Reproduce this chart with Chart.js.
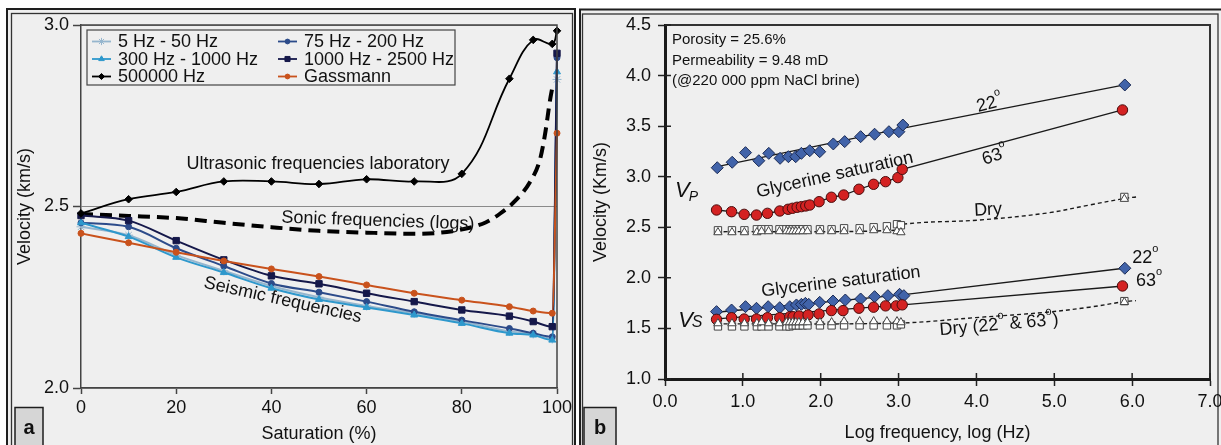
<!DOCTYPE html>
<html>
<head>
<meta charset="utf-8">
<script src="https://cdn.jsdelivr.net/npm/chart.js@4.4.1/dist/chart.umd.min.js"></script>
<style>
  html, body { margin: 0; padding: 0; background: #fff; }
  #wrap { position: relative; width: 1221px; height: 445px; overflow: hidden; }
  #satBox { position: absolute; left: 0; top: 0; width: 577px; height: 445px; }
  #freqBox { position: absolute; left: 577px; top: 0; width: 660px; height: 445px; }
</style>
</head>
<body>
<div id="wrap">
  <div id="satBox"><canvas id="satChart" width="577" height="445"></canvas></div>
  <div id="freqBox"><canvas id="freqChart" width="660" height="445"></canvas></div>
</div>
<script>
// ---- panel a : velocity vs saturation ----
const saturation = [0, 10, 20, 30, 40, 50, 60, 70, 80, 90, 95, 99, 100];
const vel5to50 = [2.444, 2.421, 2.366, 2.323, 2.281, 2.250, 2.226, 2.206, 2.183, 2.156, 2.149, 2.135, 2.850];
const vel75to200 = [2.455, 2.444, 2.385, 2.336, 2.288, 2.264, 2.238, 2.210, 2.187, 2.164, 2.151, 2.141, 2.910];
const vel300to1000 = [2.455, 2.417, 2.360, 2.318, 2.275, 2.244, 2.222, 2.201, 2.178, 2.151, 2.146, 2.132, 2.871];
const vel1000to2500 = [2.475, 2.461, 2.406, 2.353, 2.309, 2.287, 2.261, 2.238, 2.215, 2.198, 2.183, 2.169, 2.922];
const vel500000 = [2.481, 2.520, 2.540, 2.569, 2.569, 2.562, 2.575, 2.569, 2.590, 2.852, 2.959, 2.948, 2.984];
const velGassmann = [2.426, 2.400, 2.374, 2.350, 2.328, 2.307, 2.284, 2.261, 2.242, 2.224, 2.212, 2.206, 2.702];
const seriesNames = ['5 Hz - 50 Hz', '75 Hz - 200 Hz', '300 Hz - 1000 Hz', '1000 Hz - 2500 Hz', '500000 Hz', 'Gassmann'];

// sonic log trend (dashed, no markers)
const sonicSat = [0, 10, 20, 30, 40, 50, 60, 70, 78, 85, 88, 91.4, 94.3, 96.4, 97.5, 98.5, 99.2];
const sonicVel = [2.479, 2.474, 2.468, 2.455, 2.443, 2.433, 2.428, 2.425, 2.432, 2.456, 2.48, 2.518, 2.567, 2.628, 2.70, 2.79, 2.84];

// ---- panel b : velocity vs log frequency ----
const vp22Log = [0.671, 0.863, 1.034, 1.205, 1.333, 1.478, 1.585, 1.679, 1.752, 1.859, 1.987, 2.162, 2.308, 2.513, 2.692, 2.876, 3.004, 3.055, 5.906];
const vp22Vel = [3.089, 3.143, 3.238, 3.158, 3.231, 3.182, 3.198, 3.198, 3.231, 3.257, 3.247, 3.324, 3.347, 3.396, 3.420, 3.445, 3.445, 3.511, 3.907];
const vp63Log = [0.662, 0.855, 1.017, 1.175, 1.316, 1.474, 1.581, 1.637, 1.697, 1.752, 1.808, 1.859, 1.979, 2.137, 2.295, 2.491, 2.679, 2.833, 2.991, 3.047, 5.876];
const vp63Vel = [2.671, 2.654, 2.628, 2.621, 2.638, 2.661, 2.678, 2.688, 2.698, 2.704, 2.711, 2.720, 2.753, 2.797, 2.819, 2.876, 2.925, 2.951, 2.991, 3.073, 3.660];
const vs22Log = [0.662, 0.855, 1.034, 1.175, 1.325, 1.474, 1.603, 1.688, 1.752, 1.803, 1.846, 1.987, 2.158, 2.316, 2.513, 2.692, 2.863, 3.013, 3.068, 5.906];
const vs22Vel = [1.666, 1.682, 1.715, 1.699, 1.715, 1.705, 1.715, 1.732, 1.738, 1.748, 1.738, 1.758, 1.771, 1.781, 1.791, 1.814, 1.824, 1.837, 1.824, 2.095];
const vs63Log = [0.662, 0.855, 1.017, 1.175, 1.316, 1.474, 1.603, 1.645, 1.722, 1.838, 1.979, 2.137, 2.286, 2.491, 2.679, 2.833, 2.970, 3.047, 5.876];
const vs63Vel = [1.590, 1.606, 1.593, 1.593, 1.606, 1.606, 1.616, 1.616, 1.623, 1.633, 1.643, 1.676, 1.676, 1.700, 1.710, 1.723, 1.723, 1.733, 1.920];

const dryLog = [0.68, 0.86, 1.02, 1.18, 1.24, 1.33, 1.47, 1.56, 1.60, 1.64, 1.68, 1.72, 1.77, 1.83, 1.99, 2.14, 2.30, 2.50, 2.68, 2.85, 2.98, 3.03, 5.90];
const vpDrySquare = [2.47, 2.47, 2.47, 2.48, 2.48, 2.48, 2.48, 2.48, 2.48, 2.48, 2.48, 2.48, 2.48, 2.48, 2.48, 2.48, 2.49, 2.49, 2.50, 2.51, 2.53, 2.52, 2.80];
const vpDryTriangle = [2.45, 2.45, 2.45, 2.45, 2.46, 2.46, 2.46, 2.46, 2.46, 2.46, 2.46, 2.46, 2.46, 2.46, 2.46, 2.46, 2.46, 2.46, 2.47, 2.47, 2.46, 2.45, 2.78];
const vsDrySquare = [1.52, 1.52, 1.52, 1.52, 1.52, 1.52, 1.52, 1.52, 1.52, 1.53, 1.53, 1.53, 1.53, 1.53, 1.53, 1.53, 1.53, 1.53, 1.53, 1.53, 1.53, 1.54, 1.77];
const vsDryTriangle = [1.55, 1.55, 1.55, 1.55, 1.56, 1.55, 1.55, 1.56, 1.56, 1.56, 1.56, 1.56, 1.56, 1.56, 1.56, 1.56, 1.57, 1.57, 1.57, 1.57, 1.57, 1.56, 1.76];

// trend lines through the clusters
const vp22FitLog = [0.67, 3.06, 5.95];
const vp22FitVel = [3.10, 3.48, 3.915];
const vs22FitLog = [0.66, 3.07, 5.95];
const vs22FitVel = [1.66, 1.835, 2.10];
const vs63FitLog = [0.66, 3.05, 5.93];
const vs63FitVel = [1.595, 1.733, 1.922];
const vpDryFitLog = [0.66, 2.95, 3.05, 4.04, 4.9, 5.45, 5.9, 6.05];
const vpDryFitVel = [2.456, 2.47, 2.53, 2.572, 2.64, 2.72, 2.785, 2.80];
const vsDryFitLog = [0.66, 3.0, 4.04, 4.9, 5.45, 5.9, 6.05];
const vsDryFitVel = [1.545, 1.553, 1.61, 1.66, 1.71, 1.765, 1.775];

const FONT = '"Liberation Sans", Arial, Helvetica, sans-serif';
Chart.defaults.font.family = FONT;
Chart.defaults.color = '#111';
Chart.defaults.animation = false;

function pts(xs, ys) { return xs.map((x, i) => ({ x: x, y: ys[i] })); }

// text with ° drawn as a small raised "o"
function richText(ctx, text, x, y, o) {
  o = o || {};
  const size = o.size || 18, rot = o.rot || 0, style = o.style || '';
  const main = style + ' ' + size + 'px ' + FONT;
  const small = style + ' ' + Math.round(size * 0.6) + 'px ' + FONT;
  const parts = [];
  text.split('°').forEach((seg, i, arr) => {
    if (seg) parts.push({ t: seg, f: main, dy: 0 });
    if (i < arr.length - 1) parts.push({ t: 'o', f: small, dy: -size * 0.5 });
  });
  ctx.save();
  ctx.translate(x, y);
  ctx.rotate(rot * Math.PI / 180);
  let w = 0;
  parts.forEach(p => { ctx.font = p.f; p.w = ctx.measureText(p.t).width; w += p.w; });
  let cx = o.align === 'left' ? 0 : -w / 2;
  ctx.textAlign = 'left';
  ctx.textBaseline = 'middle';
  ctx.fillStyle = '#111';
  parts.forEach(p => { ctx.font = p.f; ctx.fillText(p.t, cx, p.dy); cx += p.w; });
  ctx.restore();
}

// white page, grey panel with a double frame, and the panel letter
const panelFrame = {
  id: 'panelFrame',
  beforeDraw(chart, args, o) {
    const ctx = chart.ctx;
    ctx.save();
    ctx.fillStyle = '#fff';
    ctx.fillRect(0, 0, chart.width, chart.height);
    ctx.fillStyle = '#efefef';
    ctx.fillRect(o.x0, o.y0, o.x1 - o.x0, 500);
    ctx.strokeStyle = '#1e1e1e';
    ctx.lineWidth = 2;
    ctx.strokeRect(o.x0, o.y0, o.x1 - o.x0, 500);
    ctx.lineWidth = 1.3;
    ctx.strokeStyle = '#333';
    ctx.strokeRect(o.x0 + o.gap, o.y0 + 4.5, o.x1 - o.x0 - o.gap - o.gapR, 500);
    ctx.restore();
  },
  afterDraw(chart, args, o) {
    const ctx = chart.ctx;
    ctx.save();
    ctx.fillStyle = '#d6d6d6';
    ctx.fillRect(o.tagX, 407.5, o.tagW, 50);
    ctx.strokeStyle = '#1e1e1e';
    ctx.lineWidth = 1.5;
    ctx.strokeRect(o.tagX, 407.5, o.tagW, 50);
    ctx.fillStyle = '#111';
    ctx.font = 'bold 20px ' + FONT;
    ctx.textAlign = 'center';
    ctx.textBaseline = 'middle';
    ctx.fillText(o.tag, o.tagX + o.tagW / 2, 428);
    ctx.restore();
  }
};

// box around the plotting area, optional inward tick stubs
const areaBox = {
  id: 'areaBox',
  afterDraw(chart, args, o) {
    const { ctx, chartArea: a, scales } = chart;
    ctx.save();
    ctx.strokeStyle = o.color;
    ctx.lineWidth = o.width;
    ctx.beginPath();
    ctx.moveTo(a.left, a.top); ctx.lineTo(a.right, a.top); ctx.lineTo(a.right, a.bottom);
    ctx.stroke();
    if (o.innerTicks) {
      ctx.lineWidth = 1.5;
      ctx.strokeStyle = '#222';
      ctx.beginPath();
      scales.x.ticks.forEach(t => {
        const px = scales.x.getPixelForValue(t.value);
        ctx.moveTo(px, a.bottom); ctx.lineTo(px, a.bottom - 6);
      });
      scales.y.ticks.forEach(t => {
        const py = scales.y.getPixelForValue(t.value);
        ctx.moveTo(a.left, py); ctx.lineTo(a.left + 6, py);
      });
      ctx.stroke();
    }
    ctx.restore();
  }
};

// free text placed in data coordinates
const notes = {
  id: 'notes',
  afterDatasetsDraw(chart, args, o) {
    const { ctx, scales } = chart;
    (o.items || []).forEach(n => {
      const x = scales.x.getPixelForValue(n.x), y = scales.y.getPixelForValue(n.y);
      if (n.draw) n.draw(ctx, x, y);
      else richText(ctx, n.text, x, y, n);
    });
  }
};

// ---------- panel a ----------
const seismicColors = ['#96b6ce', '#2c4b8a', '#2e98cc', '#15184a', '#000000', '#c9521c'];
const seismicMarkers = [
  { pointStyle: 'star', radius: 4.5 },
  { pointStyle: 'circle', radius: 3 },
  { pointStyle: 'triangle', radius: 4 },
  { pointStyle: 'rect', radius: 4.5 },
  { pointStyle: 'rectRot', radius: 3.8 },
  { pointStyle: 'circle', radius: 3 }
];
const seismicValues = [vel5to50, vel75to200, vel300to1000, vel1000to2500, vel500000, velGassmann];

const satDatasets = [{
  label: 'Sonic frequencies (logs)',
  data: pts(sonicSat, sonicVel),
  borderColor: '#000',
  borderWidth: 4,
  borderDash: [12, 7],
  pointRadius: 0,
  cubicInterpolationMode: 'monotone',
  order: 9
}];
seismicValues.forEach((vals, i) => {
  const ultrasonic = i === 4;
  satDatasets.push({
    label: seriesNames[i],
    data: pts(saturation, vals),
    borderColor: seismicColors[i],
    backgroundColor: seismicColors[i],
    pointBackgroundColor: seismicColors[i],
    pointBorderColor: seismicColors[i],
    borderWidth: ultrasonic ? 1.8 : 2,
    pointStyle: seismicMarkers[i].pointStyle,
    pointRadius: seismicMarkers[i].radius,
    pointBorderWidth: 1,
    tension: ultrasonic ? 0.4 : 0,
    cubicInterpolationMode: ultrasonic ? 'default' : 'monotone',
    clip: false,
    order: ultrasonic ? 1 : 6 - i
  });
});

const seriesKey = {
  id: 'seriesKey',
  afterDraw(chart) {
    const { ctx, chartArea: a } = chart;
    const left = a.left + 6, top = a.top + 5, w = 368, h = 55;
    ctx.save();
    ctx.fillStyle = '#efefef';
    ctx.fillRect(left, top, w, h);
    ctx.strokeStyle = '#444';
    ctx.lineWidth = 1.2;
    ctx.strokeRect(left, top, w, h);
    seriesNames.forEach((name, i) => {
      const col = i % 2, row = Math.floor(i / 2);
      const sx = left + 5 + col * 186, sy = top + 11.5 + row * 17.5;
      ctx.strokeStyle = seismicColors[i];
      ctx.fillStyle = seismicColors[i];
      ctx.lineWidth = 1.8;
      ctx.beginPath(); ctx.moveTo(sx, sy); ctx.lineTo(sx + 19, sy); ctx.stroke();
      ctx.lineWidth = 1;
      Chart.helpers.drawPoint(ctx, { pointStyle: seismicMarkers[i].pointStyle, radius: seismicMarkers[i].radius * 0.8, borderWidth: 1, rotation: 0 }, sx + 9.5, sy);
      ctx.fillStyle = '#111';
      ctx.font = '18px ' + FONT;
      ctx.textAlign = 'left';
      ctx.textBaseline = 'middle';
      ctx.fillText(name, sx + 26, sy + 1);
    });
    ctx.restore();
  }
};

new Chart(document.getElementById('satChart'), {
  type: 'line',
  data: { datasets: satDatasets },
  plugins: [panelFrame, areaBox, notes, seriesKey],
  options: {
    responsive: false,
    layout: { padding: { left: 0, top: 25, right: 20, bottom: 0 } },
    plugins: {
      legend: { display: false },
      tooltip: { enabled: false },
      panelFrame: { x0: 7, y0: 9, x1: 575, gap: 4.5, gapR: 2.5, tag: 'a', tagX: 15, tagW: 28 },
      areaBox: { color: '#444', width: 1.5, innerTicks: false },
      notes: {
        items: [
          { text: 'Ultrasonic frequencies laboratory', x: 49.8, y: 2.617, size: 18 },
          { text: 'Sonic frequencies (logs)', x: 62.4, y: 2.46, size: 18, rot: 2 },
          { text: 'Seismic frequencies', x: 42.4, y: 2.242, size: 18, rot: 12.5 }
        ]
      }
    },
    scales: {
      x: {
        type: 'linear', min: 0, max: 100,
        ticks: { stepSize: 20, font: { size: 18 }, color: '#111', padding: 3, autoSkip: false },
        grid: { drawOnChartArea: false, tickLength: 6, tickColor: '#444', tickWidth: 1.5 },
        border: { color: '#444', width: 1.5 },
        title: { display: true, text: 'Saturation (%)', font: { size: 18 }, color: '#111', padding: { top: 0, bottom: 0 } },
        afterFit(s) { s.height = 57; }
      },
      y: {
        min: 2, max: 3,
        ticks: { stepSize: 0.5, font: { size: 18 }, color: '#111', padding: 4, callback: v => v.toFixed(1) },
        grid: { color: '#8a8a8a', lineWidth: 1, tickLength: 8, tickColor: '#444', tickWidth: 1.5 },
        border: { color: '#444', width: 1.5 },
        title: { display: true, text: 'Velocity (km/s)', font: { size: 18 }, color: '#111', padding: { top: 14, bottom: 0 } },
        afterFit(s) { s.width = 81; }
      }
    }
  }
});

// ---------- panel b ----------
const blueFill = '#4163a9', blueEdge = '#1b2b55';
const redFill = '#d42222', redEdge = '#4a0d0d';

function trend(xs, ys, dashed) {
  return {
    data: pts(xs, ys), borderColor: '#1a1a1a', borderWidth: dashed ? 1.4 : 1.3,
    borderDash: dashed ? [4, 3] : [], pointRadius: 0, tension: dashed ? 0.35 : 0, order: 8, clip: false
  };
}
function marks(xs, ys, style, radius, fill, edge) {
  return {
    data: pts(xs, ys), showLine: false, pointStyle: style, pointRadius: radius,
    pointBackgroundColor: fill, pointBorderColor: edge, pointBorderWidth: 1, order: 1, clip: false
  };
}

const freqDatasets = [
  trend(vp22FitLog, vp22FitVel, false),
  trend(vs22FitLog, vs22FitVel, false),
  trend(vs63FitLog, vs63FitVel, false),
  trend(vpDryFitLog, vpDryFitVel, true),
  trend(vsDryFitLog, vsDryFitVel, true),
  Object.assign(marks(vp63Log, vp63Vel, 'circle', 5.2, redFill, redEdge), { showLine: true, borderColor: '#1a1a1a', borderWidth: 1.3, order: 2 }),
  marks(dryLog, vpDryTriangle, 'triangle', 4.8, '#fff', '#444'),
  marks(dryLog, vpDrySquare, 'rect', 5.2, '#fff', '#444'),
  marks(dryLog, vsDryTriangle, 'triangle', 4.8, '#fff', '#444'),
  marks(dryLog, vsDrySquare, 'rect', 5.2, '#fff', '#444'),
  marks(vp22Log, vp22Vel, 'rectRot', 6, blueFill, blueEdge),
  marks(vs63Log, vs63Vel, 'circle', 5.2, redFill, redEdge),
  marks(vs22Log, vs22Vel, 'rectRot', 6, blueFill, blueEdge)
];

function subscriptV(sub, subSize, dy) {
  return (ctx, x, y) => {
    ctx.save();
    ctx.fillStyle = '#111';
    ctx.textAlign = 'left';
    ctx.textBaseline = 'middle';
    ctx.font = 'italic 22px ' + FONT;
    const w = ctx.measureText('V').width;
    ctx.fillText('V', x - 11, y);
    ctx.font = 'italic ' + subSize + 'px ' + FONT;
    ctx.fillText(sub, x - 11 + w - 1, y + dy);
    ctx.restore();
  };
}

new Chart(document.getElementById('freqChart'), {
  type: 'line',
  data: { datasets: freqDatasets },
  plugins: [panelFrame, areaBox, notes],
  options: {
    responsive: false,
    layout: { padding: { left: 0, top: 25, right: 27, bottom: 0 } },
    plugins: {
      legend: { display: false },
      tooltip: { enabled: false },
      panelFrame: { x0: 3, y0: 9.5, x1: 646, gap: 2.5, gapR: 5, tag: 'b', tagX: 7, tagW: 32 },
      areaBox: { color: '#333', width: 2, innerTicks: true },
      notes: {
        items: [
          { text: 'Porosity = 25.6%', x: 0.09, y: 4.352, size: 15, align: 'left' },
          { text: 'Permeability = 9.48 mD', x: 0.09, y: 4.144, size: 15, align: 'left' },
          { text: '(@220 000 ppm NaCl brine)', x: 0.09, y: 3.946, size: 15, align: 'left' },
          { text: '22°', x: 4.17, y: 3.72, size: 18, rot: -15 },
          { text: '63°', x: 4.24, y: 3.205, size: 18, rot: -20 },
          { text: 'Dry', x: 4.15, y: 2.67, size: 18, rot: -3 },
          { text: 'Glycerine saturation', x: 2.18, y: 3.017, size: 18, rot: -12.7 },
          { text: 'Glycerine saturation', x: 2.26, y: 1.96, size: 18, rot: -7 },
          { text: '22°', x: 6.0, y: 2.196, size: 18, align: 'left' },
          { text: '63°', x: 6.05, y: 1.97, size: 18, align: 'left' },
          { text: 'Dry (22° & 63°)', x: 4.29, y: 1.534, size: 18, rot: -5 },
          { x: 0.27, y: 2.86, draw: subscriptV('P', 14, 6) },
          { x: 0.31, y: 1.573, draw: subscriptV('S', 16, 2) }
        ]
      }
    },
    scales: {
      x: {
        type: 'linear', min: 0, max: 7,
        ticks: { stepSize: 1, font: { size: 18 }, color: '#111', padding: 5, autoSkip: false, callback: v => v.toFixed(1) },
        grid: { drawOnChartArea: false, tickLength: 7, tickColor: '#222', tickWidth: 1.5 },
        border: { color: '#1a1a1a', width: 3 },
        title: { display: true, text: 'Log frequency, log (Hz)', font: { size: 18 }, color: '#111', padding: { top: 0, bottom: 1 } },
        afterFit(s) { s.height = 66; }
      },
      y: {
        min: 1, max: 4.5,
        ticks: { stepSize: 0.5, font: { size: 18 }, color: '#111', padding: 7, callback: v => v.toFixed(1) },
        grid: { drawOnChartArea: false, tickLength: 7, tickColor: '#222', tickWidth: 1.5 },
        border: { color: '#1a1a1a', width: 3 },
        title: { display: true, text: 'Velocity (Km/s)', font: { size: 18 }, color: '#111', padding: { top: 13, bottom: 0 } },
        afterFit(s) { s.width = 88; }
      }
    }
  }
});
</script>
</body>
</html>
